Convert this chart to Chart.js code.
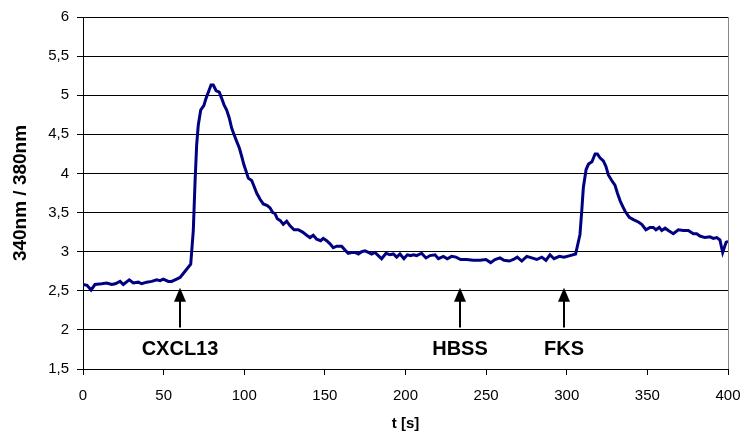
<!DOCTYPE html>
<html>
<head>
<meta charset="utf-8">
<script src="https://cdn.jsdelivr.net/npm/chart.js@4/dist/chart.umd.min.js"></script>
<style>
  body { margin: 0; background: #fff; }
  canvas { display: block; }
</style>
</head>
<body>
<canvas id="ratioChart" width="746" height="441"></canvas>
<script>
const times = [0, 2.5, 5, 7.4, 11.6, 14.7, 17.8, 20, 23, 25, 28.7, 31.2, 34.3, 36.4, 39.5, 42.6, 45.7, 47.8, 49.8, 52.9,
  55, 58.1, 60.2, 63.3, 66.8, 68.4, 69.5, 70.5, 71.5, 73, 75, 76.3, 78.3, 79.4, 80.8, 82.5, 84.5, 86, 87.4, 89.1,
  90.7, 92.2, 93.6, 95.3, 96.9, 98.4, 99.8, 101.1, 102.5, 104.6, 106, 107.7, 109.8, 111.8, 114.3, 116, 117.6, 119, 120.5, 122.2,
  124.2, 126.3, 128.4, 130.9, 133.5, 136.2, 138.7, 140.8, 142.8, 144.9, 147.4, 149, 151.1, 153.2, 155.2, 157.3, 160.4, 162.5, 164.5, 166.6,
  168.7, 170.8, 172.8, 174.9, 177, 179, 181.1, 183.1, 185.2, 187.9, 190.4, 192.5, 194.5, 196.6, 199, 201.1, 203.2, 204.8, 206.9, 210,
  212.7, 215.2, 218.3, 220.4, 223.5, 225.9, 228.6, 231.3, 234.2, 237.9, 242, 246.2, 249.9, 252.8, 255.5, 258.6, 261.1, 264.4, 266.9, 269.3,
  272.1, 275.2, 278.3, 281.4, 284.5, 287.1, 289.6, 292.1, 295.4, 298.3, 302, 305.5, 308.2, 309.3, 310.3, 312, 313.5, 315.6, 317.6, 319,
  320.6, 322.7, 324.3, 325.8, 327.9, 329.9, 331.4, 333.1, 334.7, 336.1, 338.8, 341.3, 344.4, 346.5, 349.1, 351.6, 353.7, 355.3, 357.4, 358.9,
  361, 363, 366.1, 369.2, 372.3, 375.4, 378.5, 380.6, 382.6, 385.7, 388.8, 390.9, 393, 395, 396.7, 398.8, 400];

const ratio = [2.58, 2.57, 2.51, 2.58, 2.59, 2.60, 2.58, 2.59, 2.62, 2.58, 2.64, 2.60, 2.61, 2.59, 2.61, 2.62, 2.64, 2.63, 2.65, 2.62,
  2.62, 2.65, 2.67, 2.75, 2.84, 3.27, 3.90, 4.37, 4.62, 4.81, 4.87, 4.96, 5.07, 5.13, 5.13, 5.06, 5.04, 4.96, 4.88, 4.81,
  4.71, 4.58, 4.50, 4.41, 4.33, 4.22, 4.11, 4.03, 3.94, 3.91, 3.84, 3.75, 3.67, 3.61, 3.59, 3.56, 3.50, 3.49, 3.42, 3.40,
  3.35, 3.39, 3.33, 3.28, 3.28, 3.25, 3.21, 3.18, 3.21, 3.16, 3.14, 3.17, 3.14, 3.10, 3.05, 3.07, 3.07, 3.02, 2.98, 2.99,
  2.99, 2.97, 3.00, 3.01, 2.99, 2.97, 2.99, 2.95, 2.91, 2.98, 2.96, 2.97, 2.93, 2.97, 2.91, 2.96, 2.95, 2.96, 2.95, 2.98,
  2.92, 2.95, 2.96, 2.91, 2.94, 2.91, 2.94, 2.93, 2.90, 2.90, 2.89, 2.89, 2.90, 2.86, 2.90, 2.92, 2.89, 2.88, 2.90, 2.93,
  2.88, 2.94, 2.92, 2.90, 2.93, 2.89, 2.96, 2.91, 2.94, 2.93, 2.95, 2.97, 3.22, 3.52, 3.82, 4.05, 4.12, 4.15, 4.25, 4.25,
  4.20, 4.16, 4.09, 3.98, 3.91, 3.85, 3.75, 3.65, 3.58, 3.52, 3.44, 3.41, 3.38, 3.35, 3.28, 3.31, 3.31, 3.28, 3.31, 3.27,
  3.30, 3.27, 3.23, 3.28, 3.27, 3.27, 3.23, 3.23, 3.20, 3.18, 3.19, 3.17, 3.18, 3.15, 2.99, 3.12, 3.13];

// stimulus markers (arrow tip / tail in y units)
const markerTimes = [60, 234, 298];
const markerLabels = ['CXCL13', 'HBSS', 'FKS'];
const arrowTip = 2.54;
const arrowTail = 2.03;

const xTicks = [0, 50, 100, 150, 200, 250, 300, 350, 400];
const yTicks = [1.5, 2, 2.5, 3, 3.5, 4, 4.5, 5, 5.5, 6];

const markers = {
    id: 'markers',
    afterDatasetsDraw(chart) {
        const { ctx, chartArea, scales: { x, y } } = chart;
        ctx.save();
        // right frame line
        ctx.strokeStyle = '#888';
        ctx.lineWidth = 1;
        ctx.beginPath();
        ctx.moveTo(Math.round(chartArea.right) + 0.5, chartArea.top);
        ctx.lineTo(Math.round(chartArea.right) + 0.5, chartArea.bottom);
        ctx.stroke();

        ctx.fillStyle = '#000';
        ctx.strokeStyle = '#000';
        ctx.font = 'bold 20px "Liberation Sans", Arial, sans-serif';
        ctx.textAlign = 'center';
        ctx.textBaseline = 'middle';
        markerTimes.forEach((t, i) => {
            const px = Math.round(x.getPixelForValue(t));
            const top = y.getPixelForValue(arrowTip);
            const bottom = y.getPixelForValue(arrowTail);
            ctx.lineWidth = 2;
            ctx.beginPath();
            ctx.moveTo(px, bottom);
            ctx.lineTo(px, top + 10);
            ctx.stroke();
            ctx.beginPath();
            ctx.moveTo(px, top);
            ctx.lineTo(px - 6, top + 14);
            ctx.lineTo(px + 6, top + 14);
            ctx.closePath();
            ctx.fill();
            ctx.fillText(markerLabels[i], px, bottom + 22);
        });
        ctx.restore();
    }
};

document.addEventListener('DOMContentLoaded', function () {
    const ctx = document.getElementById('ratioChart').getContext('2d');
    new Chart(ctx, {
        type: 'line',
        data: {
            datasets: [{
                data: times.map((t, i) => ({ x: t, y: ratio[i] })),
                borderColor: '#000080',
                borderWidth: 3,
                pointRadius: 0,
                fill: false,
                tension: 0
            }]
        },
        options: {
            responsive: false,
            animation: false,
            layout: { padding: { top: 15, right: 18, left: 0, bottom: 0 } },
            plugins: { legend: { display: false }, tooltip: { enabled: false } },
            scales: {
                x: {
                    type: 'linear',
                    min: 0,
                    max: 400,
                    afterBuildTicks: (s) => { s.ticks = xTicks.map(v => ({ value: v })); },
                    afterFit: (s) => { s.height = 72; s.paddingLeft = 0; s.paddingRight = 0; },
                    ticks: { color: '#000', padding: 12, font: { family: '"Liberation Sans", Arial', size: 15 } },
                    grid: { drawOnChartArea: false, tickLength: 6, color: '#000' },
                    border: { color: '#000' },
                    title: {
                        display: true, text: 't [s]', color: '#000', padding: { bottom: 8 },
                        font: { family: '"Liberation Sans", Arial', size: 15, weight: 'bold' }
                    }
                },
                y: {
                    min: 1.5,
                    max: 6,
                    afterBuildTicks: (s) => { s.ticks = yTicks.map(v => ({ value: v })); },
                    afterFit: (s) => { s.width = 83; },
                    ticks: {
                        color: '#000', padding: 8,
                        font: { family: '"Liberation Sans", Arial', size: 15 },
                        callback: (v) => String(v).replace('.', ',')
                    },
                    grid: { color: '#000', tickLength: 6 },
                    border: { color: '#000' },
                    title: {
                        display: true, text: '340nm / 380nm', color: '#000', padding: { top: 9 },
                        font: { family: '"Liberation Sans", Arial', size: 19, weight: 'bold' }
                    }
                }
            }
        },
        plugins: [markers]
    });
});
</script>
</body>
</html>
